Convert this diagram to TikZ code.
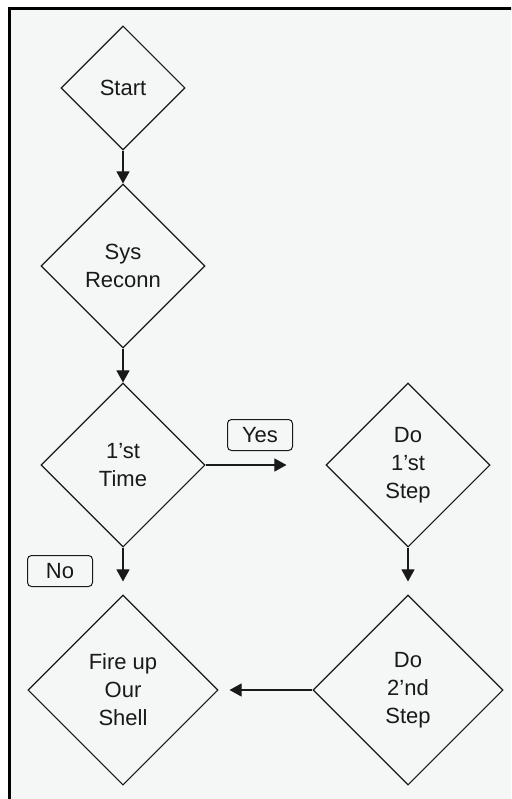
\documentclass[tikz,border=0pt]{standalone}
\usepackage{fontspec}
\setmainfont{Liberation Sans}
\usetikzlibrary{shapes.geometric,arrows.meta}

\definecolor{paper}{RGB}{245,246,246}
\definecolor{ink}{RGB}{25,25,25}

\tikzset{
  decision/.style={draw=ink, line width=1.1pt, shape=diamond, aspect=1, inner sep=0pt,
    align=center, text=ink, font=\fontsize{22}{28}\selectfont},
  tag/.style={draw=ink, line width=1pt, rounded corners=4pt, minimum width=65pt,
    minimum height=31pt, inner sep=0pt, text=ink, font=\fontsize{22}{25}\selectfont},
  flow/.style={draw=ink, line width=1.1pt, -{Triangle[length=12pt,width=13pt]}}
}

\begin{document}
\begin{tikzpicture}[x=1pt,y=-1pt]
    \useasboundingbox (0,0) rectangle (511,799);
    % Draw the framed background
    \begin{scope}
        \clip (0,0) rectangle (511,799);
        \filldraw[fill=paper, draw=black, line width=3pt] (9,9) rectangle (530,820);
    \end{scope}

    % Draw the decision boxes
    \node[decision, minimum width=124pt, minimum height=124pt] (start) at (123,88) {Start};
    \node[decision, minimum width=164pt, minimum height=164pt] (reconn) at (123,266) {Sys\\Reconn};
    \node[decision, minimum width=164pt, minimum height=164pt] (firsttime) at (123,465) {1’st\\Time};
    \node[decision, minimum width=164pt, minimum height=164pt] (dofirst) at (408,465) {Do\\1’st\\Step};
    \node[decision, minimum width=190pt, minimum height=190pt] (shell) at (123,690) {Fire up\\Our\\Shell};
    \node[decision, minimum width=190pt, minimum height=190pt] (dosecond) at (408,690) {Do\\2’nd\\Step};

    % Draw the answer tags
    \node[tag] (yes) at (260,435) {Yes};
    \node[tag] (no) at (60,571) {No};

    % Draw the arrows
    \draw[flow] (start) -- (reconn);
    \draw[flow] (reconn) -- (firsttime);
    \draw[flow, shorten >=39pt] (firsttime) -- (dofirst);
    \draw[flow, shorten >=13pt] (firsttime) -- (shell);
    \draw[flow, shorten >=13pt] (dofirst) -- (dosecond);
    \draw[flow, shorten >=11pt] (dosecond) -- (shell);
\end{tikzpicture}
\end{document}
